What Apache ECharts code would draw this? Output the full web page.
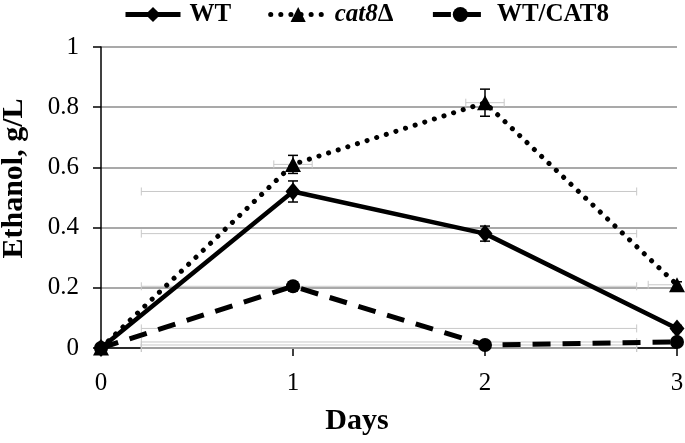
<!DOCTYPE html>
<html><head><meta charset="utf-8">
<script src="https://cdn.jsdelivr.net/npm/echarts@6/dist/echarts.min.js"></script>
<style>html,body{margin:0;padding:0;background:#fff}#c{width:685px;height:443px}</style>
</head><body><div id="c"></div>
<script>
const days = [0, 1, 2, 3];
const wt = [0, 0.52, 0.38, 0.065];
const cat8 = [0, 0.61, 0.815, 0.21];
const wtcat8 = [0, 0.205, 0.01, 0.02];
const wtErr = [0, 0.035, 0.025, 0.01];
const cat8Err = [0, 0.03, 0.045, 0.01];
const wtcat8Err = [0, 0.015, 0.005, 0.005];
const cat8XErr = [0.1, 0.1, 0.1, 0.15];
const xErrLow = 0.21, xErrHigh = 2.79;
const yTicks = [0, 0.2, 0.4, 0.6, 0.8, 1];
const xTicks = [0, 1, 2, 3];

const FONT = '"Liberation Serif", "Times New Roman", serif';
const pts = a => days.map((d, i) => [d, a[i]]);

const vErrData = [];
[[wt, wtErr], [cat8, cat8Err], [wtcat8, wtcat8Err]].forEach(([v, e]) => {
  days.forEach((d, i) => { if (e[i] > 0) vErrData.push([d, v[i], e[i]]); });
});
const hErrData = [];
[wt, wtcat8].forEach(v => v.forEach(y => hErrData.push([xErrLow, y, xErrHigh])));
days.forEach((d, i) => { if (i > 0) hErrData.push([d - cat8XErr[i], cat8[i], d + cat8XErr[i]]); });

const chart = echarts.init(document.getElementById('c'), null, {renderer: 'canvas'});
chart.setOption({
  animation: false,
  backgroundColor: '#fff',
  textStyle: {fontFamily: FONT},
  grid: {left: 101, right: 8, top: 47, bottom: 95, containLabel: false, outerBoundsMode: 'none'},
  legend: {
    top: 2, left: 123, padding: 0, itemWidth: 55, itemHeight: 19, itemGap: 37,
    lineStyle: {width: 5},
    textStyle: {fontFamily: FONT, fontSize: 25, fontWeight: 'bold', color: '#000', padding: [0, 0, 0, 4],
      rich: {i: {fontFamily: FONT, fontSize: 25, fontWeight: 'bold', fontStyle: 'italic', color: '#000'},
             d: {fontFamily: FONT, fontSize: 25, fontWeight: 'bold', color: '#000'}}},
    formatter: n => n === 'cat8Δ' ? '{i|cat8}{d|Δ}' : n,
    data: ['WT', 'cat8Δ', 'WT/CAT8']
  },
  xAxis: {
    type: 'value', min: 0, max: 3, interval: 1,
    name: 'Days', nameLocation: 'middle', nameGap: 58,
    nameTextStyle: {fontFamily: FONT, fontSize: 30, fontWeight: 'bold', color: '#000', padding: [0, 64, 0, 0]},
    axisLine: {show: true, lineStyle: {color: '#000', width: 1.5}},
    axisTick: {show: true, length: 8, lineStyle: {color: '#000', width: 1.5}},
    axisLabel: {fontFamily: FONT, fontSize: 25, color: '#000', margin: 23,
      formatter: v => xTicks.includes(v) ? String(v) : ''},
    splitLine: {show: false}
  },
  yAxis: {
    type: 'value', min: 0, max: 1, interval: 0.2,
    name: 'Ethanol, g/L', nameLocation: 'middle', nameGap: 72,
    nameTextStyle: {fontFamily: FONT, fontSize: 30, fontWeight: 'bold', color: '#000', padding: [0, 0, 0, 38]},
    axisLine: {show: true, lineStyle: {color: '#000', width: 1.5}},
    axisTick: {show: true, length: 8, lineStyle: {color: '#000', width: 1.5}},
    axisLabel: {fontFamily: FONT, fontSize: 25, color: '#000', margin: 22,
      formatter: v => { const t = yTicks.find(k => Math.abs(k - v) < 1e-9); return t === undefined ? '' : String(t); }},
    splitLine: {show: true, lineStyle: {color: '#8c8c8c', width: 1.5}}
  },
  series: [
    {
      type: 'custom', name: 'hErr', silent: true, z: 1,
      renderItem: (params, api) => {
        const cs = params.coordSys;
        const a = api.coord([api.value(0), api.value(1)]);
        const b = api.coord([api.value(2), api.value(1)]);
        const xr = Math.min(b[0], cs.x + cs.width);
        const s = {stroke: '#c8c8c8', lineWidth: 1};
        const ch = [
          {type: 'line', shape: {x1: a[0], y1: a[1], x2: xr, y2: b[1]}, style: s},
          {type: 'line', shape: {x1: a[0], y1: a[1] - 4, x2: a[0], y2: a[1] + 4}, style: s}
        ];
        if (b[0] <= cs.x + cs.width) ch.push({type: 'line', shape: {x1: b[0], y1: b[1] - 4, x2: b[0], y2: b[1] + 4}, style: s});
        return {type: 'group', children: ch};
      },
      data: hErrData
    },
    {
      type: 'line', name: 'WT', data: pts(wt), z: 3,
      symbol: 'diamond', symbolSize: [15, 18], showAllSymbol: true,
      itemStyle: {color: '#000'}, lineStyle: {color: '#000', width: 4.5, type: 'solid'}
    },
    {
      type: 'line', name: 'cat8Δ', data: pts(cat8), z: 3,
      symbol: 'triangle', symbolSize: [16, 15],
      itemStyle: {color: '#000'}, lineStyle: {color: '#000', width: 5, type: [0.1, 10], cap: 'round'}
    },
    {
      type: 'line', name: 'WT/CAT8', data: pts(wtcat8), z: 3,
      symbol: 'circle', symbolSize: 14,
      itemStyle: {color: '#000'}, lineStyle: {color: '#000', width: 5, type: [18, 12]}
    },
    {
      type: 'custom', name: 'vErr', silent: true, z: 4,
      renderItem: (params, api) => {
        const x = api.value(0), y = api.value(1), e = api.value(2);
        const t = api.coord([x, y + e]);
        const b = api.coord([x, y - e]);
        const s = {stroke: '#000', lineWidth: 1.5};
        return {type: 'group', children: [
          {type: 'line', shape: {x1: t[0], y1: t[1], x2: b[0], y2: b[1]}, style: s},
          {type: 'line', shape: {x1: t[0] - 5, y1: t[1], x2: t[0] + 5, y2: t[1]}, style: s},
          {type: 'line', shape: {x1: b[0] - 5, y1: b[1], x2: b[0] + 5, y2: b[1]}, style: s}
        ]};
      },
      data: vErrData
    }
  ]
});
</script></body></html>
